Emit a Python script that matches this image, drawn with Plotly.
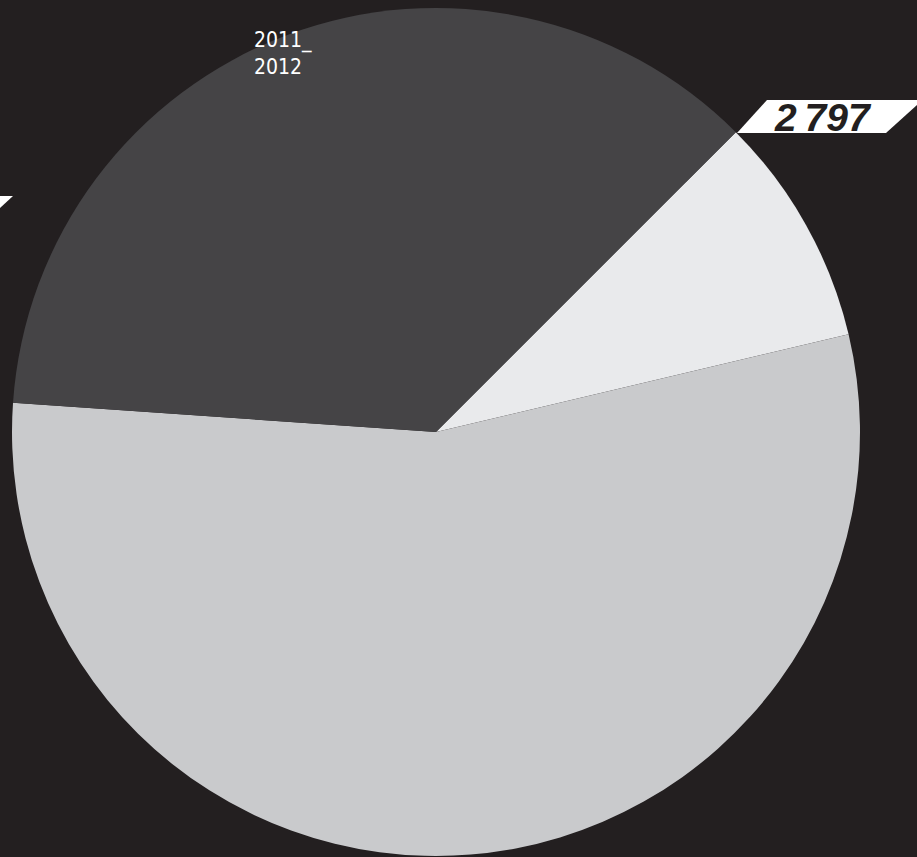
import plotly.graph_objects as go

# ---- data (shares of the circle) ----
categories = ["A", "B", "2011_2012"]
values = [8.8, 54.8, 36.4]
slice_colors = ["#e9eaec", "#c9cacc", "#454446"]
label_years = ["2011_", "2012"]
label_value = "2\u2009797"

W, H = 917, 857
BG = "#231f20"

def px(x):
    return x / W

def py(y):
    return 1 - y / H

cx, cy, r = 436, 432, 424

fig = go.Figure()
fig.add_trace(go.Pie(
    labels=categories,
    values=values,
    sort=False,
    direction="clockwise",
    rotation=45,
    marker=dict(colors=slice_colors, line=dict(width=0)),
    textinfo="none",
    hoverinfo="label+value",
    showlegend=False,
    domain=dict(x=[px(cx - r), px(cx + r)], y=[py(cy + r), py(cy - r)]),
))

def poly(points):
    return "M " + " L ".join(f"{px(x):.5f},{py(y):.5f}" for x, y in points) + " Z"

shapes = [
    # white parallelogram behind the value label
    dict(type="path", xref="paper", yref="paper",
         path=poly([(767, 100), (917, 100), (917, 105), (886, 133), (737, 133)]),
         fillcolor="white", line=dict(width=0)),
    # partly visible parallelogram at the left edge
    dict(type="path", xref="paper", yref="paper",
         path=poly([(0, 196), (13, 196), (0, 208)]),
         fillcolor="white", line=dict(width=0)),
]

year_font = dict(family="DejaVu Sans Condensed, DejaVu Sans, sans-serif", size=21, color="white")
annotations = [
    dict(x=px(252), y=py(53), xref="paper", yref="paper", xanchor="left", yanchor="middle",
         text="<br>".join(label_years), showarrow=False, align="left", font=year_font),
    dict(x=px(823), y=py(117), xref="paper", yref="paper", xanchor="center", yanchor="middle",
         text=f"<b><i>{label_value}</i></b>", showarrow=False,
         font=dict(family="Liberation Sans, Arial, sans-serif", size=39, color=BG)),
]

fig.update_layout(
    width=W, height=H,
    margin=dict(l=0, r=0, t=0, b=0),
    paper_bgcolor=BG, plot_bgcolor=BG,
    shapes=shapes, annotations=annotations,
    showlegend=False,
)

fig.write_html("out.html")
